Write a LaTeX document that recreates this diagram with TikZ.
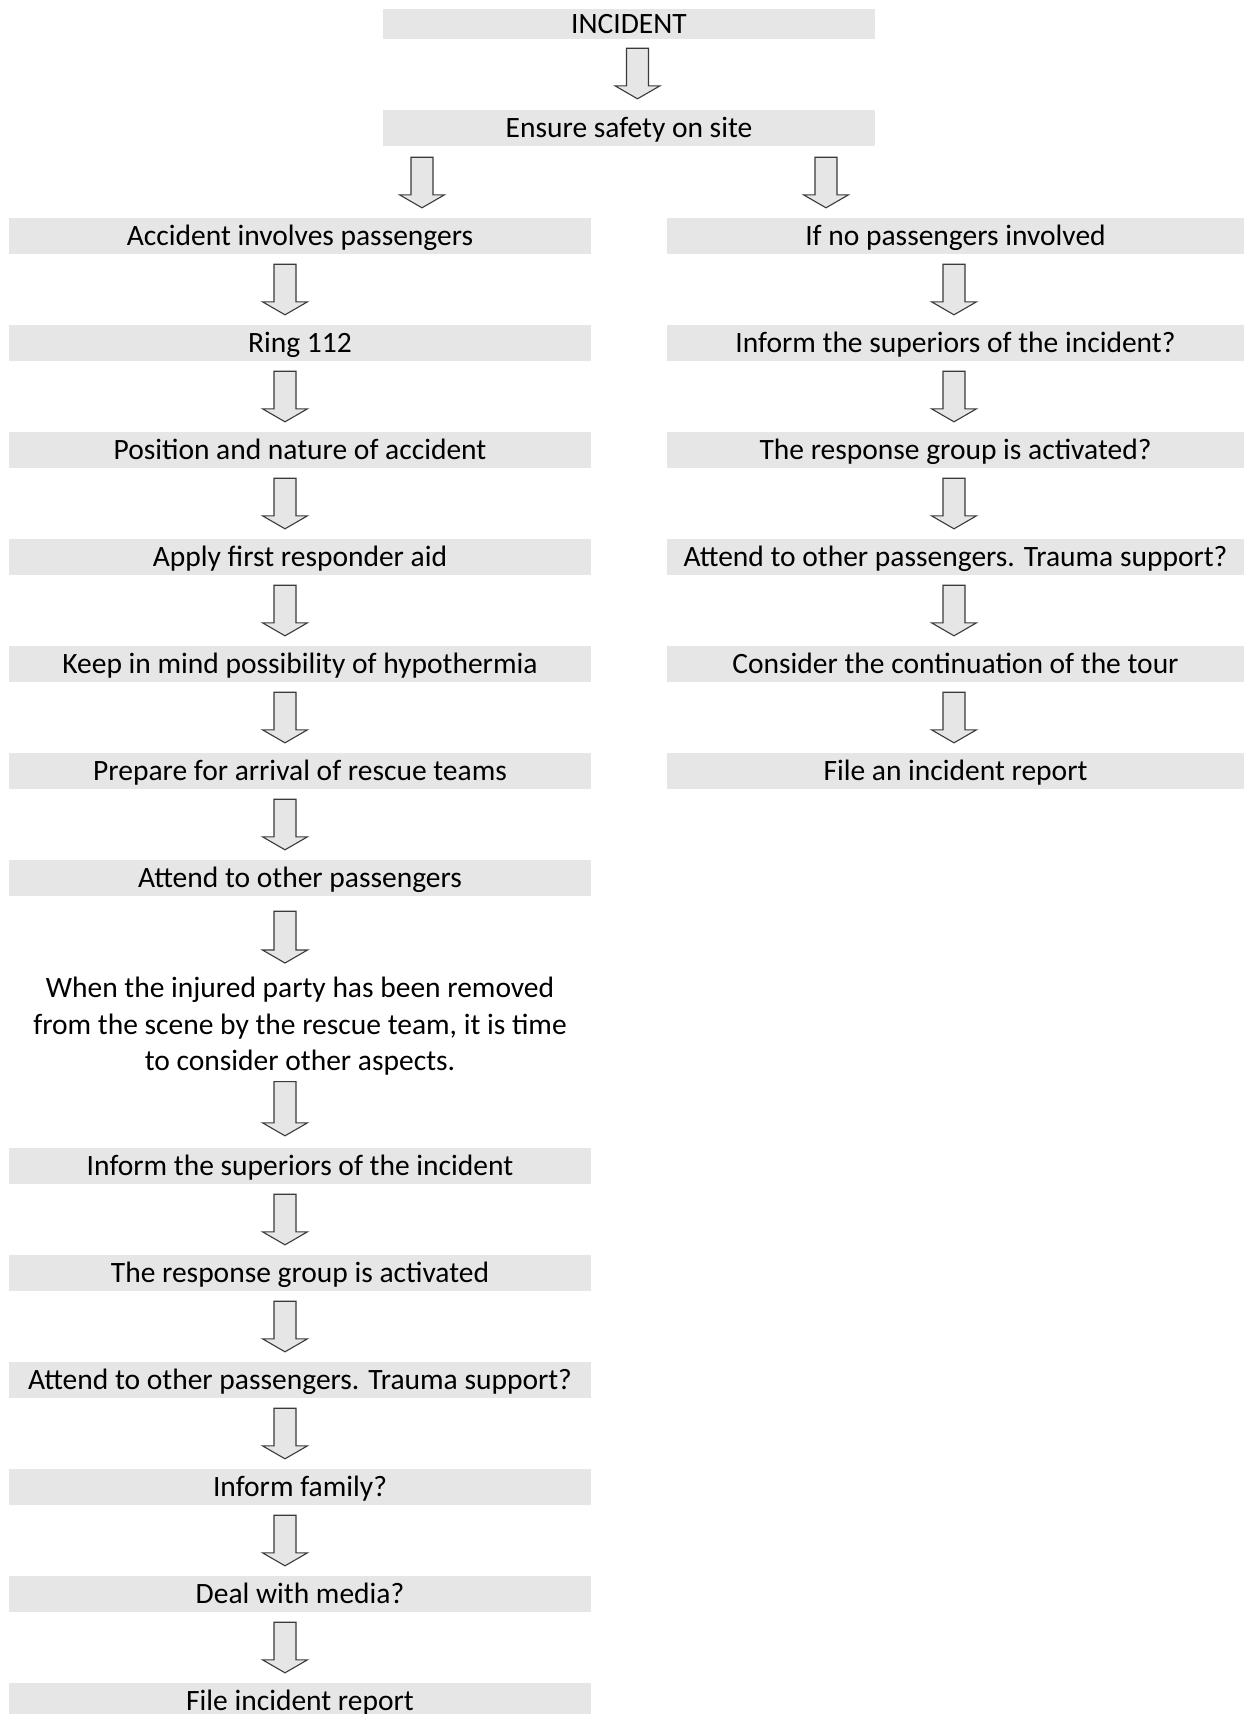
\documentclass[tikz,border=0pt]{standalone}
\usepackage{fontspec}
\setmainfont{Carlito}
\usetikzlibrary{calc}
\definecolor{boxgray}{HTML}{E6E6E6}
\definecolor{arrline}{HTML}{3A3A3A}
\tikzset{
 box/.style={fill=boxgray, inner sep=0pt, minimum height=36pt, text height=19pt, text depth=0pt, font=\fontsize{29.5}{36}\selectfont},
 lbox/.style={box, minimum width=582pt},
 rbox/.style={box, minimum width=577pt},
 barr/.style={draw=arrline, fill=boxgray, line width=1.1pt, line join=miter},
}
\newcommand\barrow[5]{\draw[barr] let \p1=(#1.south), \p2=(#2.north) in
 ({#3pt-11pt},{\y1-#4pt}) -- ({#3pt+11pt},{\y1-#4pt}) -- ({#3pt+11pt},{\y2+#5pt+13pt}) -- ({#3pt+22.5pt},{\y2+#5pt+13pt}) -- ({#3pt},{\y2+#5pt}) -- ({#3pt-22.5pt},{\y2+#5pt+13pt}) -- ({#3pt-11pt},{\y2+#5pt+13pt}) -- cycle;}
\begin{document}
\begin{tikzpicture}[x=1pt,y=-1pt]
\useasboundingbox (0,0) rectangle (1245,1714);
\clip (0,0) rectangle (1245,1714);
\node[box, minimum width=492pt, minimum height=30pt] (inc) at (629,24) {INCIDENT};
\node[box, minimum width=492pt] (safe) at (629,128) {Ensure safety on site};
% left column
\node[lbox] (l1) at (300,236) {Accident involves passengers};
\node[lbox] (l2) at (300,343) {Ring 112};
\node[lbox] (l3) at (300,450) {Position and nature of accident};
\node[lbox] (l4) at (300,557) {Apply first responder aid};
\node[lbox] (l5) at (300,664) {Keep in mind possibility of hypothermia};
\node[lbox] (l6) at (300,771) {Prepare for arrival of rescue teams};
\node[lbox] (l7) at (300,878) {Attend to other passengers};
\node[font=\fontsize{29.5}{36.5}\selectfont, align=center, inner sep=0pt, anchor=north] (when) at (300,977) {When the injured party has been removed\\from the scene by the rescue team, it is time\\to consider other aspects.};
\node[lbox] (l8) at (300,1166) {Inform the superiors of the incident};
\node[lbox] (l9) at (300,1273) {The response group is activated};
\node[lbox] (l10) at (300,1380) {Attend to other passengers. Trauma support?};
\node[lbox] (l11) at (300,1487) {Inform family?};
\node[lbox] (l12) at (300,1594) {Deal with media?};
\node[lbox] (l13) at (300,1701) {File incident report};
% right column
\node[rbox] (r1) at (955.5,236) {If no passengers involved};
\node[rbox] (r2) at (955.5,343) {Inform the superiors of the incident?};
\node[rbox] (r3) at (955.5,450) {The response group is activated?};
\node[rbox] (r4) at (955.5,557) {Attend to other passengers. Trauma support?};
\node[rbox] (r5) at (955.5,664) {Consider the continuation of the tour};
\node[rbox] (r6) at (955.5,771) {File an incident report};
% arrows
\barrow{inc}{safe}{637.5}{9}{11}
\barrow{safe}{l1}{422}{11}{10}
\barrow{safe}{r1}{826}{11}{10}
\barrow{l1}{l2}{285}{10}{10}
\barrow{l2}{l3}{285}{10}{10}
\barrow{l3}{l4}{285}{10}{10}
\barrow{l4}{l5}{285}{10}{10}
\barrow{l5}{l6}{285}{10}{10}
\barrow{l6}{l7}{285}{10}{10}
\barrow{l7}{when}{285}{15}{14}
\barrow{when}{l8}{285}{6}{12}
\barrow{l8}{l9}{285}{10}{10}
\barrow{l9}{l10}{285}{10}{10}
\barrow{l10}{l11}{285}{10}{10}
\barrow{l11}{l12}{285}{10}{10}
\barrow{l12}{l13}{285}{10}{10}
\barrow{r1}{r2}{954}{10}{10}
\barrow{r2}{r3}{954}{10}{10}
\barrow{r3}{r4}{954}{10}{10}
\barrow{r4}{r5}{954}{10}{10}
\barrow{r5}{r6}{954}{10}{10}
\end{tikzpicture}
\end{document}
